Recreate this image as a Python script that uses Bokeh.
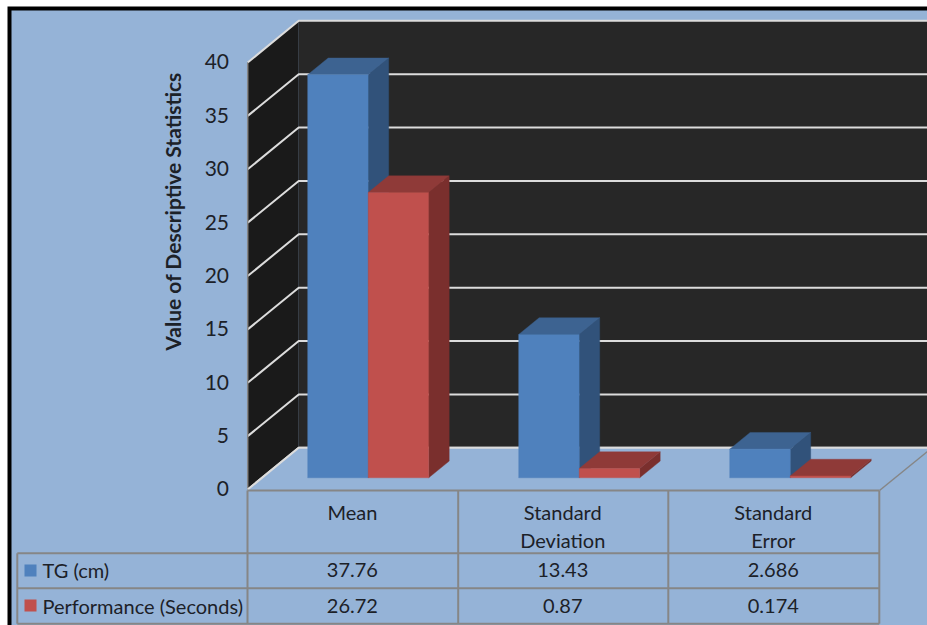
from bokeh.core.properties import value
from bokeh.embed import file_html
from bokeh.models import Range1d
from bokeh.plotting import figure
from bokeh.resources import INLINE

# Chart content
categories = [["Mean"], ["Standard", "Deviation"], ["Standard", "Error"]]
series_names = ["TG (cm)", "Performance (Seconds)"]
tg = [37.76, 13.43, 2.686]
performance = [26.72, 0.87, 0.174]
row_labels_tg = ["37.76", "13.43", "2.686"]
row_labels_perf = ["26.72", "0.87", "0.174"]
ticks = [0, 5, 10, 15, 20, 25, 30, 35, 40]
axis_title = "Value of Descriptive Statistics"

BLUE, BLUE_TOP, BLUE_SIDE = "#4f81bd", "#3d6391", "#31527a"
RED, RED_TOP, RED_SIDE = "#c0504d", "#8f3a38", "#7a2f2d"
PANEL = "#95b3d7"
GRID = "#dcdcdc"
RULE = "#868686"
INK = "#1c2128"
FONT = "Lato"

W, H = 927, 625
PX_PER_UNIT = 10.675
ZERO_PX = 489.0


def v(px_y):
    """Screen row to axis units."""
    return (ZERO_PX - px_y) / PX_PER_UNIT


p = figure(width=W, height=H, output_backend="svg", toolbar_location=None,
           x_range=Range1d(0, W), y_range=Range1d(v(H), v(0)),
           min_border=0, outline_line_color=None, background_fill_color="white",
           border_fill_color="white")
p.axis.visible = False
p.grid.visible = False


def solid(xs, ys, color):
    # A hairline of the fill colour closes the seams between adjoining faces
    p.patch(xs, ys, fill_color=color, line_color=color, line_width=0.4)


def box(x0, x1, y0, y1, color):
    p.patch([x0, x1, x1, x0], [v(y0), v(y0), v(y1), v(y1)],
            fill_color=color, line_color=None)


def line(xs, ys, color, width):
    p.line(xs, ys, line_color=color, line_width=width)


# Frame and chart area
box(7, W, 6, H, "black")
box(11, W, 10, H, PANEL)

# 3D walls
LEFT, BACK = 247.2, 298.2
DEPTH_X, DEPTH_V = BACK - LEFT, 41.7 / PX_PER_UNIT
top = max(ticks)
p.patch([LEFT, BACK, BACK, LEFT], [0, DEPTH_V, top + DEPTH_V, top],
        fill_color="#1a1a1a", line_color=None)
p.patch([BACK, W, W, BACK], [DEPTH_V, DEPTH_V, top + DEPTH_V, top + DEPTH_V],
        fill_color="#272727", line_color=None)

# Gridlines running along the side wall and the back wall
for t in ticks:
    line([LEFT, BACK, W], [t, t + DEPTH_V, t + DEPTH_V], GRID, 2)
line([LEFT, LEFT], [0, top], RULE, 1.5)

# Floor
FLOOR_RIGHT = 879
p.patch([LEFT, BACK, W, W, FLOOR_RIGHT],
        [0, DEPTH_V, DEPTH_V, v(451), 0],
        fill_color=PANEL, line_color=None)
line([LEFT, BACK, W], [0, DEPTH_V, DEPTH_V], GRID, 2)
line([FLOOR_RIGHT, W], [v(490), v(451)], RULE, 1.5)

# Bars
SLOT = 211
BAR_W = 60.5
BAR_START = 307.2
BASE_V = v(477.3)
BAR_DX, BAR_DV = 20.5, 16.7 / PX_PER_UNIT


def bar(x, val, front, top_c, side):
    y0, y1 = BASE_V, BASE_V + val
    x1 = x + BAR_W
    solid([x1, x1 + BAR_DX, x1 + BAR_DX, x1],
          [y0, y0 + BAR_DV, y1 + BAR_DV, y1], side)
    solid([x, x + BAR_DX, x1 + BAR_DX, x1],
          [y1, y1 + BAR_DV, y1 + BAR_DV, y1], top_c)
    solid([x, x1, x1, x], [y0, y0, y1, y1], front)


for i, (a, b) in enumerate(zip(tg, performance)):
    x = BAR_START + SLOT * i
    bar(x, a, BLUE, BLUE_TOP, BLUE_SIDE)
    bar(x + BAR_W, b, RED, RED_TOP, RED_SIDE)

# Data table rules
COLS = [247, 457.7, 667.8, 878.8]
ROW_HEAD, ROW_A, ROW_B, ROW_END = 490, 552.7, 587.7, 623.2
TABLE_LEFT = 16.8
for c in COLS:
    line([c, c], [v(ROW_HEAD), v(ROW_END)], RULE, 2)
line([TABLE_LEFT, TABLE_LEFT], [v(ROW_A), v(ROW_END)], RULE, 2)
line([COLS[0], COLS[-1]], [v(ROW_HEAD), v(ROW_HEAD)], RULE, 2)
for r in (ROW_A, ROW_B, ROW_END):
    line([TABLE_LEFT, COLS[-1]], [v(r), v(r)], RULE, 2)


def label(x, y, txt, align="center", size=20, style="normal", angle=0.0):
    p.text([x], [y], text=[txt], text_font=value(FONT), text_font_size=f"{size}px",
            text_font_style=style, text_color=INK, text_align=align,
            text_baseline="middle", angle=angle)


# Value axis labels and title
for t in ticks:
    label(228.5, t + 0.05, str(t), align="right", size=21)
label(172, v(211), axis_title, size=21, style="bold", angle=1.5708)

# Table text
centers = [(COLS[i] + COLS[i + 1]) / 2 - 0.5 for i in range(3)]
for cx, parts, a, b in zip(centers, categories, row_labels_tg, row_labels_perf):
    for j, part in enumerate(parts):
        label(cx, v(511.5 + 28 * j), part)
    label(cx, v(569.5), a)
    label(cx, v(605), b)

# Legend keys embedded in the table
box(24, 36, 564, 576, BLUE)
box(24, 36, 599, 611, RED)
label(42, v(569.5), series_names[0], align="left")
label(42, v(605), series_names[1], align="left")

open("out.html", "w").write(file_html(p, INLINE))
